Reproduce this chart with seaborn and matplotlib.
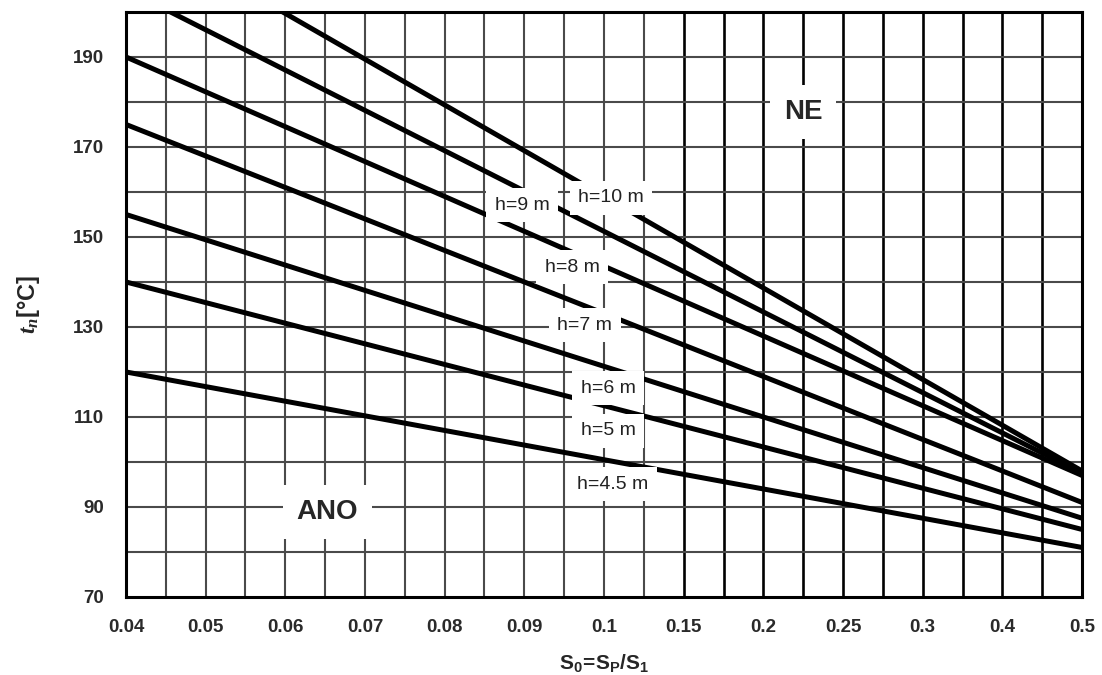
import numpy as np
import pandas as pd
import matplotlib
matplotlib.use('Agg')
import matplotlib.pyplot as plt
import seaborn as sns

# S0 ticks sit at equal spacing in the original, so the axis is drawn by position
x_ticks = [0.04, 0.05, 0.06, 0.07, 0.08, 0.09, 0.1, 0.15, 0.2, 0.25, 0.3, 0.4, 0.5]
x_tick_labels = ['0.04', '0.05', '0.06', '0.07', '0.08', '0.09', '0.1',
                 '0.15', '0.2', '0.25', '0.3', '0.4', '0.5']
y_ticks = [70, 90, 110, 130, 150, 170, 190]

# straight lines t_n(S0) for each chimney height h
heights = ['4.5', '5', '6', '7', '8', '9', '10']
s0_ends = [0.04, 0.5]
t_start = [120, 140, 155, 175, 190, 205, 220]
t_end = [81, 85, 87.5, 91, 97, 97.5, 98]

# curve labels (text, s0 position index, t)
curve_labels = ['h=4.5 m', 'h=5 m', 'h=6 m', 'h=7 m', 'h=8 m', 'h=9 m', 'h=10 m']
label_pos = [6.11, 6.05, 6.05, 5.76, 5.6, 4.97, 6.09]
label_t = [95.1, 106.9, 116.4, 130.4, 143.3, 157.1, 158.7]


def main():
    sns.set_theme(style='white')
    plt.rcParams['font.family'] = ['Liberation Sans', 'DejaVu Sans']
    plt.rcParams['mathtext.fontset'] = 'custom'
    plt.rcParams['mathtext.rm'] = 'Liberation Sans:bold'
    plt.rcParams['mathtext.bf'] = 'Liberation Sans:bold'
    plt.rcParams['mathtext.it'] = 'Liberation Serif:italic:bold'

    rows = []
    for h, t0, t1 in zip(heights, t_start, t_end):
        for s, t in zip(s0_ends, [t0, t1]):
            rows.append({'h': h, 'pos': x_ticks.index(s), 't': t})
    df = pd.DataFrame(rows)

    fig = plt.figure(figsize=(11.02, 6.75), dpi=100)
    ax = fig.add_axes([0.1143, 0.1156, 0.8676, 0.8667])

    # grid: vertical every half step, heavier on the right part
    for p in np.arange(0.5, 12, 0.5):
        if p >= 7:
            ax.axvline(p, color='black', lw=1.9, zorder=1)
        else:
            ax.axvline(p, color='#4a4a4a', lw=1.5, zorder=1)
    for y in range(80, 200, 10):
        ax.axhline(y, color='#4a4a4a', lw=1.5, zorder=1)

    sns.lineplot(data=df, x='pos', y='t', hue='h', palette=['black'] * len(heights),
                 legend=False, linewidth=3.6, ax=ax, zorder=3)

    box = dict(facecolor='white', edgecolor='none', pad=6)
    for txt, p, t in zip(curve_labels, label_pos, label_t):
        ax.text(p, t, txt, fontsize=14, color='#222222', ha='center', va='center',
                bbox=box, zorder=5)

    big_box = dict(facecolor='white', edgecolor='none', pad=10)
    ax.text(8.5, 177.8, 'NE', fontsize=20, fontweight='bold', ha='center',
            va='center', bbox=big_box, zorder=5)
    ax.text(2.53, 88.9, 'ANO', fontsize=20, fontweight='bold', ha='center',
            va='center', bbox=big_box, zorder=5)

    ax.set_xlim(0, 12)
    ax.set_ylim(70, 200)
    ax.set_xticks(range(len(x_ticks)))
    ax.set_xticklabels(x_tick_labels)
    ax.set_yticks(y_ticks)
    ax.tick_params(axis='both', which='major', direction='out', length=8, width=1.5,
                   color='black', labelsize=13.5, labelcolor='#2a2a2a', pad=8)
    for lab in ax.get_xticklabels() + ax.get_yticklabels():
        lab.set_fontweight('bold')
    for sp in ax.spines.values():
        sp.set_color('black')
        sp.set_linewidth(2.2)
        sp.set_zorder(6)

    ax.set_xlabel(r'$\mathbf{S_0\!=\!S_P/S_1}$', fontsize=15, labelpad=12)
    ax.set_ylabel(r'$t_n$[°C]', fontsize=17, fontweight='bold', labelpad=22)

    fig.savefig('out.png', dpi=100)
    plt.close(fig)


if __name__ == '__main__':
    main()
